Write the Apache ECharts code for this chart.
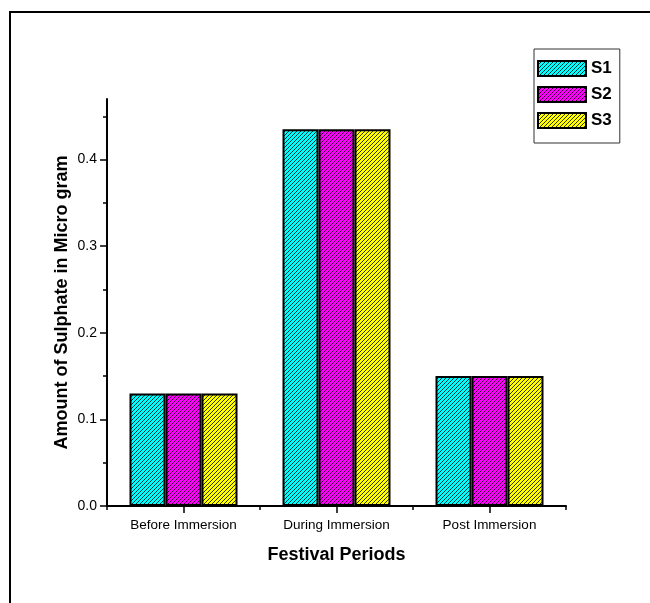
<!DOCTYPE html>
<html><head><meta charset="utf-8">
<script src="https://cdn.jsdelivr.net/npm/echarts@6/dist/echarts.min.js"></script>
<style>html,body{margin:0;padding:0;background:#fff}#c{width:650px;height:603px}</style>
</head><body><div id="c"></div>
<script>
const categories = ['Before Immersion', 'During Immersion', 'Post Immersion'];
const seriesNames = ['S1', 'S2', 'S3'];
const s1 = [0.130, 0.435, 0.150];
const s2 = [0.130, 0.435, 0.150];
const s3 = [0.130, 0.435, 0.150];
const yTicks = [0, 0.1, 0.2, 0.3, 0.4];
const yMinorTicks = [0.05, 0.15, 0.25, 0.35, 0.45];
const yMax = 0.47;
const colors = ['#00FFFF', '#FF00FF', '#FFFF00'];

function hatch(color) {
  const s = 4, c = document.createElement('canvas');
  c.width = s; c.height = s;
  const g = c.getContext('2d');
  g.fillStyle = color; g.fillRect(0, 0, s, s);
  g.strokeStyle = '#000'; g.lineWidth = 0.8;
  g.beginPath();
  g.moveTo(-1, s + 1); g.lineTo(s + 1, -1);
  g.moveTo(-1, 1); g.lineTo(1, -1);
  g.moveTo(s - 1, s + 1); g.lineTo(s + 1, s - 1);
  g.stroke();
  return { image: c, repeat: 'repeat' };
}

const font = 'Liberation Sans, Arial, sans-serif';
const chart = echarts.init(document.getElementById('c'), null, { renderer: 'canvas' });
const data = [s1, s2, s3];

chart.setOption({
  animation: false,
  backgroundColor: '#fff',
  textStyle: { fontFamily: font, color: '#000' },
  grid: { left: 107, right: 84, top: 99, bottom: 97, containLabel: false },
  legend: {
    orient: 'vertical', left: 534, top: 49,
    padding: [11, 8, 14, 3],
    borderColor: '#333', borderWidth: 1,
    itemWidth: 48, itemHeight: 15, itemGap: 9,
    icon: 'rect',
    textStyle: { fontFamily: font, fontSize: 17, fontWeight: 'bold', color: '#000', lineHeight: 15 },
    itemStyle: { borderColor: '#000', borderWidth: 2 },
    data: seriesNames
  },
  xAxis: [{
    type: 'category', data: categories, position: 'bottom',
    axisLine: { show: true, lineStyle: { color: '#000', width: 2 } },
    axisTick: { show: true, length: 4, lineStyle: { color: '#000', width: 1.5 } },
    axisLabel: { fontFamily: font, fontSize: 13.5, color: '#000', margin: 12 },
    name: 'Festival Periods', nameLocation: 'middle', nameGap: 40, nameMoveOverlap: false,
    nameTextStyle: { fontFamily: font, fontSize: 18, fontWeight: 'bold', color: '#000' },
    splitLine: { show: false }
  }, {
    type: 'category', data: categories, position: 'bottom',
    axisLine: { show: false },
    axisTick: { show: true, alignWithLabel: true, length: 7, lineStyle: { color: '#000', width: 1.5 } },
    axisLabel: { show: false },
    splitLine: { show: false }
  }],
  yAxis: [{
    type: 'value', min: 0, max: yMax, position: 'left',
    axisLine: { show: true, lineStyle: { color: '#000', width: 2 } },
    axisTick: { show: true, length: 7, customValues: yTicks, lineStyle: { color: '#000', width: 1.5 } },
    axisLabel: { fontFamily: font, fontSize: 14, color: '#000', margin: 10, customValues: yTicks,
      formatter: v => Number(v).toFixed(1) },
    splitLine: { show: false },
    name: 'Amount of Sulphate in Micro gram', nameLocation: 'middle', nameGap: 36, nameRotate: 90,
    nameMoveOverlap: false,
    nameTextStyle: { fontFamily: font, fontSize: 18, fontWeight: 'bold', color: '#000' }
  }, {
    type: 'value', min: 0, max: yMax, position: 'left', offset: 0,
    axisLine: { show: false },
    axisTick: { show: true, length: 4, customValues: yMinorTicks, lineStyle: { color: '#000', width: 1.5 } },
    axisLabel: { show: false },
    splitLine: { show: false }
  }],
  series: seriesNames.map((n, i) => ({
    name: n, type: 'bar', data: data[i], xAxisIndex: 0, yAxisIndex: 0,
    barWidth: 36, barGap: '0%',
    itemStyle: { color: hatch(colors[i]), borderColor: '#000', borderWidth: 2 }
  })),
  graphic: [{
    type: 'polyline', silent: true,
    shape: { points: [[10, 603], [10, 12], [650, 12]] },
    style: { stroke: '#000', lineWidth: 2, fill: null }
  }]
});
</script></body></html>
